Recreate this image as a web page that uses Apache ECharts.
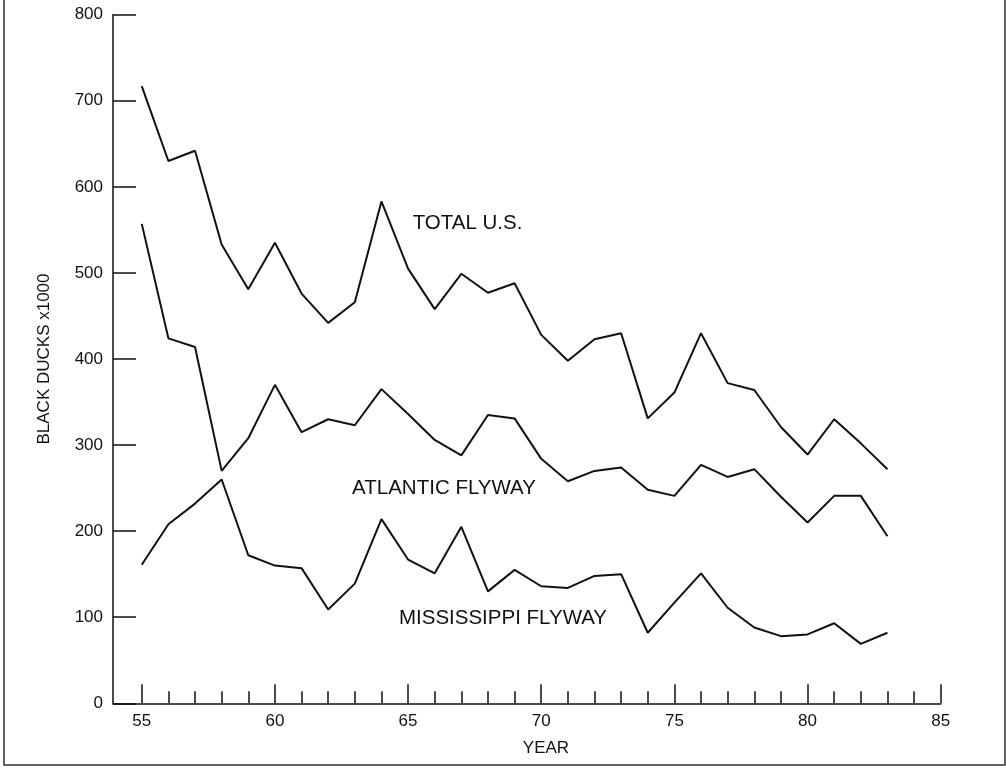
<!DOCTYPE html>
<html>
<head>
<meta charset="utf-8">
<script src="https://cdn.jsdelivr.net/npm/echarts@6/dist/echarts.min.js"></script>
<style>
html,body{margin:0;padding:0;background:#fff;}
#chart{width:1006px;height:771px;}
</style>
</head>
<body>
<div id="chart"></div>
<script>
// ---- data (years 19xx, black ducks x1000) ----
const years = [55,56,57,58,59,60,61,62,63,64,65,66,67,68,69,70,71,72,73,74,75,76,77,78,79,80,81,82,83];
const totalUS = [717,630,642,533,481,535,476,442,466,583,505,458,499,477,488,428,398,423,430,331,361,430,372,364,321,289,330,302,272];
const atlanticFlyway = [557,424,414,270,308,370,315,330,323,365,336,306,288,335,331,284,258,270,274,248,241,277,263,272,240,210,241,241,194];
const mississippiFlyway = [161,208,232,260,172,160,157,109,139,214,167,151,205,130,155,136,134,148,150,82,117,151,111,88,78,80,93,69,82];
const yearMinorTicks = [55,56,57,58,59,60,61,62,63,64,65,66,67,68,69,70,71,72,73,74,75,76,77,78,79,80,81,82,83,84,85];
const yearMajorTicks = [55,60,65,70,75,80,85];

const FONT = '"Liberation Sans", Arial, Helvetica, sans-serif';
const INK = '#111';

function pairs(xs, ys){ return xs.map((x,i)=>[x, ys[i]]); }

const chart = echarts.init(document.getElementById('chart'), null, {renderer:'canvas'});
const X_MIN = 53.92, X_MAX = 85;

const lineSeries = (name, vals) => ({
  name, type:'line', xAxisIndex:0, yAxisIndex:0,
  data: pairs(years, vals), symbol:'none', smooth:false,
  lineStyle:{color:INK, width:2}, silent:true
});

chart.setOption({
  animation:false,
  backgroundColor:'#fff',
  grid:{left:113, right:65.3, top:14.7, bottom:67.7, containLabel:false},
  xAxis:[
    {
      type:'value', min:X_MIN, max:X_MAX, position:'bottom',
      axisLine:{show:true, onZero:false, lineStyle:{color:INK, width:1.5}},
      axisTick:{show:true, inside:true, length:12, customValues:yearMinorTicks, lineStyle:{color:INK, width:1.5}},
      axisLabel:{show:true, customValues:yearMajorTicks, margin:10, color:INK, fontSize:17, fontFamily:FONT},
      splitLine:{show:false}
    },
    {
      type:'value', min:X_MIN, max:X_MAX, position:'bottom',
      axisLine:{show:false, onZero:false},
      axisTick:{show:true, inside:true, length:19, customValues:yearMajorTicks, lineStyle:{color:INK, width:1.5}},
      axisLabel:{show:false},
      splitLine:{show:false}
    }
  ],
  yAxis:{
    type:'value', min:0, max:800, interval:100,
    name:'BLACK DUCKS x1000', nameLocation:'middle', nameGap:60,
    nameTextStyle:{color:INK, fontSize:17, fontFamily:FONT},
    axisLine:{show:true, lineStyle:{color:INK, width:1.5}},
    axisTick:{show:true, inside:true, length:23, lineStyle:{color:INK, width:1.5}},
    axisLabel:{margin:10, color:INK, fontSize:17, fontFamily:FONT},
    splitLine:{show:false}
  },
  series:[
    lineSeries('TOTAL U.S.', totalUS),
    lineSeries('ATLANTIC FLYWAY', atlanticFlyway),
    lineSeries('MISSISSIPPI FLYWAY', mississippiFlyway)
  ],
  graphic:[
    {type:'polyline', shape:{points:[[4,0],[4,765],[1005,765],[1005,0]]}, style:{stroke:'#333', lineWidth:1.5, fill:null}, silent:true},
    {type:'text', x:467.5, y:223, style:{text:'TOTAL U.S.', fill:INK, font:'20.5px '+FONT, align:'center', verticalAlign:'middle'}},
    {type:'text', x:444, y:488.3, style:{text:'ATLANTIC FLYWAY', fill:INK, font:'20.5px '+FONT, align:'center', verticalAlign:'middle'}},
    {type:'text', x:503, y:618.3, style:{text:'MISSISSIPPI FLYWAY', fill:INK, font:'20.5px '+FONT, align:'center', verticalAlign:'middle'}},
    {type:'text', x:546, y:748, style:{text:'YEAR', fill:INK, font:'17px '+FONT, align:'center', verticalAlign:'middle'}}
  ]
});
</script>
</body>
</html>
